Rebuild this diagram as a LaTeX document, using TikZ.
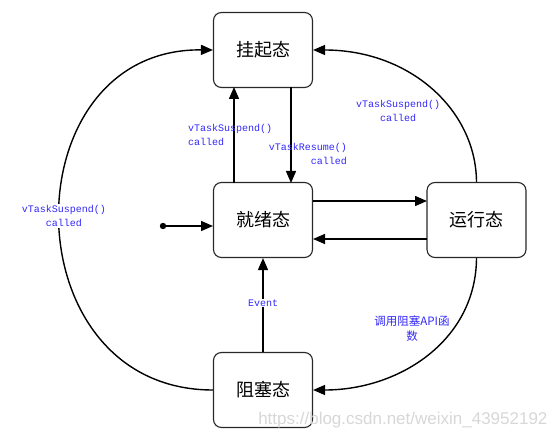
\documentclass[tikz,border=0pt]{standalone}
\usepackage{fontspec}
\newfontfamily\cjk{Noto Sans CJK SC}
\newfontfamily\lblmono{Liberation Mono}
\setsansfont{Liberation Sans}
\usetikzlibrary{arrows.meta}
\definecolor{lbl}{RGB}{50,40,250}
\definecolor{boxline}{RGB}{40,40,40}
\definecolor{wm}{RGB}{215,215,215}
\begin{document}
\begin{tikzpicture}[x=1pt,y=-1pt,
  state/.style={draw=boxline,line width=1.1pt,rounded corners=8pt,fill=white,
    minimum width=99pt,minimum height=75pt,inner sep=0pt,font=\cjk\fontsize{18}{20}\selectfont},
  conn/.style={line width=1.4pt,-{Triangle[length=12pt,width=10pt]}},
  lab/.style={text=lbl,font=\lblmono\fontsize{10}{14}\selectfont,inner sep=1pt},
  cjklab/.style={text=lbl,font=\cjk\fontsize{11.5}{15}\selectfont,inner sep=1pt}]
\useasboundingbox (0,0) rectangle (553,438);
\node[state] (susp) at (263,50) {挂起态};
\node[state] (ready) at (263,220) {就绪态};
\node[state] (run) at (476.5,220) {运行态};
\node[state] (block) at (263,390) {阻塞态};
\fill (163,226) circle (3.2pt) coordinate (start);
\draw[conn] (start) -- (213,226);
\draw[conn] (234,183) -- (234,87);
\draw[conn] (291,87) -- (291,183);
\draw[conn] (313,201) -- (427,201);
\draw[conn] (427,239) -- (313,239);
\draw[conn] (block.north) -- (ready.south);
\draw[conn] (block.west) .. controls (9,390) and (9,48) .. (susp.west);
\draw[conn] (run.north) .. controls (476,110) and (410,50) .. (susp.east);
\draw[conn] (run.south) .. controls (476,340) and (400,390) .. (block.east);
\node[lab,anchor=west,align=left] (l1) at (187,135) {vTaskSuspend()\\called};
\node[lab,anchor=east,align=right] (l2) at (348,154) {vTaskResume()\\called};
\node[lab,align=center,fill=white] (l3) at (64,216) {vTaskSuspend()\\called};
\node[lab,align=center,fill=white] (l4) at (398,111) {vTaskSuspend()\\called};
\node[lab,fill=white] (l5) at (263,303) {Event};
\node[cjklab,align=center] (l6) at (412,329) {调用阻塞API函\\数};
\node[text=wm,font=\sffamily\fontsize{17}{17}\selectfont,anchor=east] (wmk) at (551,420) {https://blog.csdn.net/weixin\_43952192};
\end{tikzpicture}
\end{document}
